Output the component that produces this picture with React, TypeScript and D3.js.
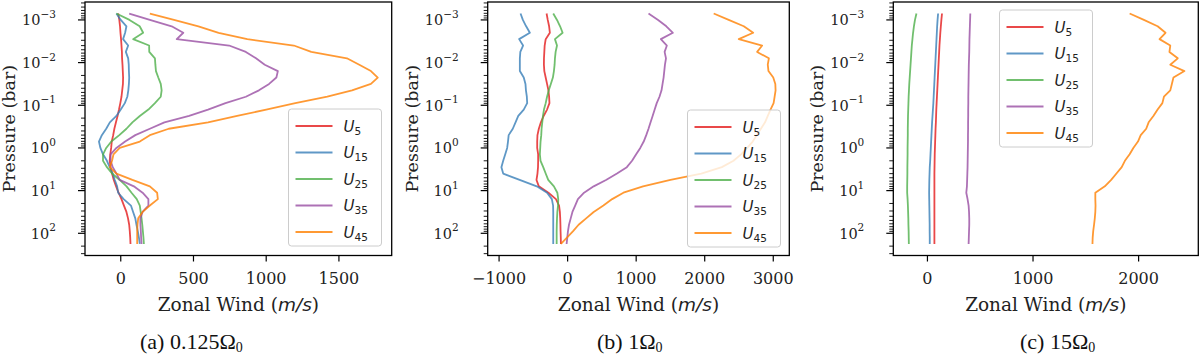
import React from "react";
import * as d3 from "d3";

// pressure levels (bar), shared by every profile
const pressure = [
  7.08e-4, 1.0e-3, 1.41e-3, 2.0e-3, 2.82e-3, 3.98e-3, 5.62e-3, 7.94e-3, 0.0112, 0.0158,
  0.0224, 0.0316, 0.0447, 0.0631, 0.0891, 0.126, 0.178, 0.251, 0.355, 0.501,
  0.708, 1.0, 1.41, 2.0, 2.82, 3.98, 5.62, 7.94, 11.2, 15.8,
  22.4, 31.6, 44.7, 63.1, 89.1, 126, 178,
];

const seriesNames = ["5", "15", "25", "35", "45"];
const seriesColors = ["#e41a1c", "#377eb8", "#4daf4a", "#984ea3", "#ff7f00"];

// (a) 0.125 Omega_0
const a_U5 = [-18, -10, -5, -2, 2, 5, 8, 9, 12, 14, 16, 15, 10, 5, -3, -12, -22, -33, -44, -52, -62, -66, -72, -76, -70, -60, -48, -32, -15, 5, 22, 39, 50, 58, 62, 65, 67];
const a_U15 = [-30, 0, 39, 30, 16, 51, 35, 51, 55, 56, 58, 56, 52, 45, 28, 0, -30, -75, -100, -130, -150, -140, -122, -95, -76, -55, -41, -25, -18, 20, 70, 85, 100, 108, 117, 125, 131];
const a_U25 = [-30, 60, 130, 154, 85, 195, 196, 235, 238, 242, 258, 275, 281, 275, 235, 190, 131, 80, 39, -10, -65, -100, -122, -122, -95, -60, -7, 40, 74, 110, 131, 137, 143, 148, 152, 156, 159];
const a_U35 = [58, 200, 350, 430, 385, 745, 860, 930, 990, 1080, 1070, 1020, 950, 860, 720, 600, 470, 300, 200, 100, 30, -30, -70, -70, -55, -30, -7, 90, 150, 190, 190, 150, 135, 135, 138, 140, 143];
const a_U45 = [200, 366, 534, 673, 870, 1190, 1310, 1555, 1640, 1720, 1767, 1720, 1590, 1420, 1200, 1000, 800, 600, 330, 200, 131, -7, -50, -60, -75, -30, 80, 200, 250, 255, 200, 150, 120, 115, 113, 113, 113];

// (b) 1 Omega_0
const b_U5 = [-307, -290, -270, -259, -320, -335, -340, -345, -346, -340, -320, -300, -280, -270, -265, -300, -350, -390, -420, -440, -444, -444, -430, -430, -432, -440, -454, -420, -280, -170, -125, -113, -108, -105, -103, -100, -98];
const b_U15 = [-687, -653, -605, -551, -707, -650, -690, -697, -697, -697, -640, -615, -608, -595, -590, -640, -720, -760, -800, -860, -870, -882, -910, -940, -966, -940, -700, -450, -300, -230, -212, -210, -210, -210, -210, -210, -210];
const b_U25 = [-210, -155, -110, -73, -185, -155, -175, -185, -190, -200, -215, -245, -275, -300, -320, -345, -360, -370, -380, -385, -395, -400, -405, -395, -356, -320, -283, -200, -150, -137, -140, -150, -155, -158, -160, -160, -160];
const b_U35 = [1180, 1320, 1440, 1536, 1360, 1448, 1415, 1435, 1420, 1410, 1400, 1385, 1370, 1340, 1300, 1270, 1240, 1210, 1180, 1147, 1110, 1060, 1000, 940, 864, 720, 560, 380, 240, 150, 110, 70, 45, 20, 5, -5, -15];
const b_U45 = [2131, 2350, 2570, 2707, 2497, 2838, 2765, 2936, 2920, 2930, 3000, 3030, 3034, 3020, 3005, 2960, 2920, 2880, 2820, 2760, 2700, 2620, 2530, 2420, 2250, 1950, 1500, 1100, 814, 650, 522, 380, 270, 160, 80, -10, -98];

// (c) 15 Omega_0
const c_U5 = [138, 132, 127, 122, 118, 114, 111, 108, 105, 102, 99, 96, 93, 90, 87, 84, 82, 80, 77, 75, 73, 71, 69, 68, 67, 66, 66, 66, 66, 66, 66, 66, 66, 66, 66, 66, 66];
const c_U15 = [101, 96, 92, 89, 86, 83, 80, 77, 74, 71, 68, 65, 62, 59, 56, 52, 48, 44, 41, 38, 35, 32, 29, 26, 22, 20, 18, 17, 16, 17, 18, 19, 20, 21, 21, 22, 22];
const c_U25 = [-104, -118, -128, -136, -142, -148, -152, -156, -160, -164, -168, -172, -175, -178, -180, -182, -184, -185, -186, -186, -187, -188, -188, -189, -190, -190, -191, -192, -192, -188, -185, -183, -181, -180, -178, -177, -176];
const c_U35 = [406, 404, 402, 400, 398, 397, 396, 394, 392, 391, 390, 389, 388, 387, 387, 386, 386, 385, 385, 384, 384, 383, 382, 381, 380, 378, 376, 374, 368, 380, 390, 394, 396, 396, 394, 392, 390];
const c_U45 = [1915, 2050, 2180, 2255, 2198, 2300, 2292, 2371, 2300, 2434, 2330, 2315, 2300, 2240, 2225, 2180, 2140, 2095, 2072, 2020, 1994, 1950, 1915, 1870, 1840, 1790, 1740, 1680, 1590, 1590, 1592, 1590, 1585, 1578, 1570, 1565, 1563];

const a_xTicks = [0, 500, 1000, 1500];
const b_xTicks = [-1000, 0, 1000, 2000, 3000];
const c_xTicks = [0, 1000, 2000];
const yTickExponents = [-3, -2, -1, 0, 1, 2];

const W = 1200;
const H = 356;
const TOP = 2;
const BOTTOM = 255.5;

const SERIF = "'DejaVu Serif', serif";
const SANS = "'DejaVu Sans', sans-serif";

type PanelProps = {
  left: number;
  right: number;
  series: number[][];
  xTicks: number[];
  legendX: number;
  legendY: number;
  label: string;
  omega: string;
  captionX: number;
};

function fmtX(v: number) {
  return v < 0 ? "\u2212" + Math.abs(v) : String(v);
}

function Panel({ left, right, series, xTicks, legendX, legendY, label, omega, captionX }: PanelProps) {
  const all = series.flat();
  const [lo, hi] = d3.extent(all) as [number, number];
  const pad = (hi - lo) * 0.05;
  const x = d3.scaleLinear().domain([lo - pad, hi + pad]).range([left, right]);

  const [pLo, pHi] = d3.extent(pressure) as [number, number];
  const lpad = (Math.log10(pHi) - Math.log10(pLo)) * 0.05;
  const y = d3
    .scaleLog()
    .domain([Math.pow(10, Math.log10(pLo) - lpad), Math.pow(10, Math.log10(pHi) + lpad)])
    .range([TOP, BOTTOM]);

  const minor: number[] = [];
  for (let e = -4; e <= 2; e++) {
    for (let k = 2; k <= 9; k++) {
      const py = y(k * Math.pow(10, e));
      if (py >= TOP && py <= BOTTOM) minor.push(py);
    }
  }

  const line = d3
    .line<number>()
    .x((d) => x(d))
    .y((_, i) => y(pressure[i]));

  const mid = (left + right) / 2;
  const yMid = (TOP + BOTTOM) / 2;

  return (
    <g>
      {series.map((s, i) => (
        <path key={i} d={line(s) || ""} fill="none" stroke={seriesColors[i]} strokeOpacity={0.8} strokeWidth={1.8} strokeLinejoin="round" />
      ))}

      {/* legend */}
      <g transform={`translate(${legendX},${legendY})`}>
        <rect x={0} y={0} width={93} height={137} rx={3} fill="white" fillOpacity={0.8} stroke="#cccccc" strokeWidth={1} />
        {seriesNames.map((n, i) => (
          <g key={n} transform={`translate(0,${17 + i * 26.5})`}>
            <line x1={7} x2={44} y1={0} y2={0} stroke={seriesColors[i]} strokeOpacity={0.8} strokeWidth={1.8} />
            <text x={55} y={5.5} fontFamily={SANS} fontSize={15} fill="#222">
              <tspan fontStyle="italic">U</tspan>
              <tspan fontSize={10.5} dy={3}>{n}</tspan>
            </text>
          </g>
        ))}
      </g>

      {/* frame */}
      <rect x={left} y={TOP} width={right - left} height={BOTTOM - TOP} fill="none" stroke="#000" strokeWidth={1.3} />

      {/* y ticks */}
      {minor.map((py, i) => (
        <line key={i} x1={left - 4} x2={left} y1={py} y2={py} stroke="#000" strokeWidth={0.9} />
      ))}
      {yTickExponents.map((e) => {
        const py = y(Math.pow(10, e));
        return (
          <g key={e}>
            <line x1={left - 7} x2={left} y1={py} y2={py} stroke="#000" strokeWidth={1.2} />
            <text x={left - 29} y={py + 5.5} textAnchor="end" fontFamily={SERIF} fontSize={14.5} fill="#222">
              10
              <tspan fontSize={10.5} dy={-7.5}>{e < 0 ? "\u2212" + Math.abs(e) : String(e)}</tspan>
            </text>
          </g>
        );
      })}

      {/* x ticks */}
      {xTicks.map((t) => (
        <g key={t}>
          <line x1={x(t)} x2={x(t)} y1={BOTTOM} y2={BOTTOM + 6} stroke="#000" strokeWidth={1.2} />
          <text x={x(t)} y={284} textAnchor="middle" fontFamily={SERIF} fontSize={16} fill="#222">
            {fmtX(t)}
          </text>
        </g>
      ))}

      <text x={mid} y={311} textAnchor="middle" fontFamily={SERIF} fontSize={18.5} fill="#222">
        Zonal Wind (<tspan fontFamily={SANS} fontStyle="italic">m/s</tspan>)
      </text>

      <text transform={`translate(${left - 70},${yMid}) rotate(-90)`} textAnchor="middle" fontFamily={SERIF} fontSize={17.5} fill="#222">
        Pressure (bar)
      </text>

      <text x={captionX} y={349} fontFamily="'Liberation Serif', serif" fontSize={22} fill="#111">
        {label} {omega}Ω<tspan fontSize={14} dy={3}>0</tspan>
      </text>
    </g>
  );
}

export default function App() {
  return (
    <svg width={W} height={H} style={{ position: "absolute", left: 0, top: 0, background: "#fff" }}>
      <rect width={W} height={H} fill="#fff" />
      <Panel left={85} right={391.7} series={[a_U5, a_U15, a_U25, a_U35, a_U45]} xTicks={a_xTicks} legendX={288.5} legendY={109} label="(a)" omega="0.125" captionX={140} />
      <Panel left={487.7} right={789.3} series={[b_U5, b_U15, b_U25, b_U35, b_U45]} xTicks={b_xTicks} legendX={687.5} legendY={110} label="(b)" omega="1" captionX={597} />
      <Panel left={893.3} right={1198.3} series={[c_U5, c_U15, c_U25, c_U35, c_U45]} xTicks={c_xTicks} legendX={999.5} legendY={10} label="(c)" omega="15" captionX={1020} />
    </svg>
  );
}
